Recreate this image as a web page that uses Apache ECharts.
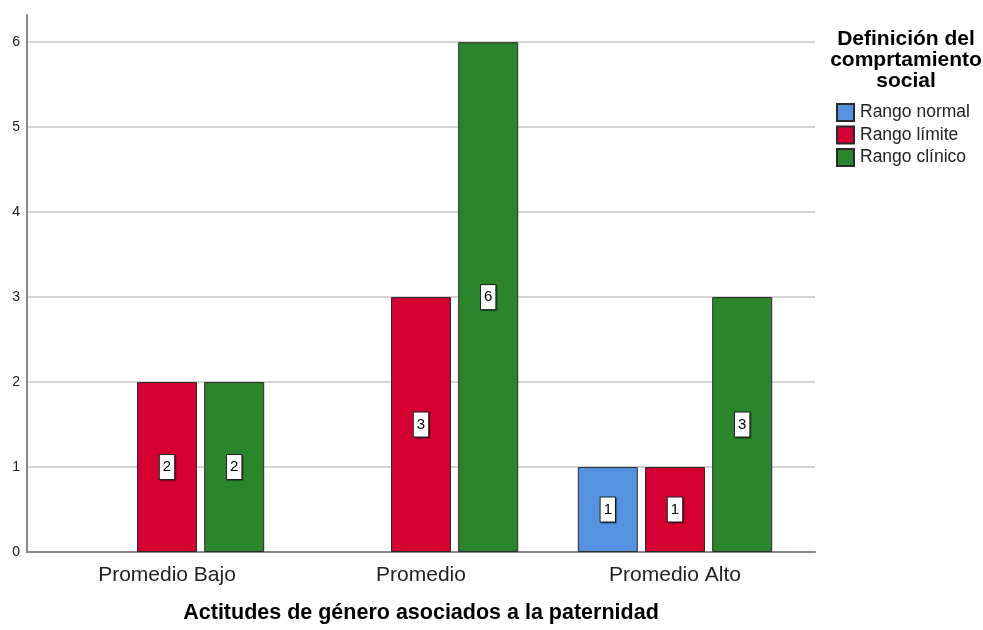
<!DOCTYPE html>
<html><head><meta charset="utf-8">
<script src="https://cdn.jsdelivr.net/npm/echarts@6/dist/echarts.min.js"></script>
<style>html,body{margin:0;padding:0;background:#fff}#c{width:983px;height:630px}</style>
</head><body><div id="c"></div>
<script>
const categories = ['Promedio Bajo', 'Promedio', 'Promedio Alto'];
const seriesNames = ['Rango normal', 'Rango límite', 'Rango clínico'];
const rangoNormal = [null, null, 1];
const rangoLimite = [2, 3, 1];
const rangoClinico = [2, 6, 3];
const yTicks = [0, 1, 2, 3, 4, 5, 6];
const xTitle = 'Actitudes de género asociados a la paternidad';
const legendTitle = 'Definición del\ncomprtamiento\nsocial';

const colors = ['#5593e1', '#d50032', '#2a852b'];
const font = 'Arial, "Liberation Sans", sans-serif';
const yMax = 6.32;

const values = [rangoNormal, rangoLimite, rangoClinico];
const chart = echarts.init(document.getElementById('c'));
chart.setOption({
  animation: false,
  title: {
    text: legendTitle, left: 901, top: 24, textAlign: 'center',
    textStyle: { fontFamily: font, fontSize: 21, fontWeight: 'bold', color: '#000', lineHeight: 21, align: 'center' }
  },
  legend: {
    orient: 'vertical', left: 831, top: 98, itemWidth: 17, itemHeight: 17, itemGap: 3.5,
    icon: 'rect', data: seriesNames,
    textStyle: { fontFamily: font, fontSize: 17.5, color: '#222', padding: [0, 0, 0, 1] }
  },
  grid: [
    { left: 27, right: 168, top: 15, bottom: 78, outerBoundsMode: 'none', containLabel: false },
    { left: 40, right: 181, top: 15, bottom: 78, outerBoundsMode: 'none', containLabel: false }
  ],
  xAxis: [
    { type: 'category', gridIndex: 0, data: categories,
      axisLine: { lineStyle: { color: '#888', width: 2 } }, axisTick: { show: false }, axisLabel: { show: false } },
    { type: 'category', gridIndex: 1, data: categories,
      axisLine: { show: false }, axisTick: { show: false },
      axisLabel: { fontFamily: font, fontSize: 21, color: '#222', margin: 13 },
      name: xTitle, nameLocation: 'middle', nameGap: 50,
      nameTextStyle: { fontFamily: font, fontSize: 21.5, fontWeight: 'bold', color: '#000' } }
  ],
  yAxis: [
    { type: 'value', gridIndex: 0, min: 0, max: yMax, interval: 1,
      axisLine: { show: true, lineStyle: { color: '#888', width: 2 } }, axisTick: { show: false },
      axisLabel: { showMaxLabel: false, fontFamily: font, fontSize: 14, color: '#222', margin: 7,
        formatter: v => yTicks.includes(v) ? String(v) : '' },
      splitLine: { show: true, lineStyle: { color: ['#d4d4d4','#d4d4d4','#d4d4d4','#d4d4d4','#d4d4d4','#d4d4d4','#d4d4d4','rgba(0,0,0,0)'], width: 2 } } },
    { type: 'value', gridIndex: 1, min: 0, max: yMax, show: false, splitLine: { show: false } }
  ],
  series: values.map((d, i) => ({
    name: seriesNames[i], type: 'bar', xAxisIndex: 1, yAxisIndex: 1, data: d,
    barWidth: 60, barGap: '12%',
    itemStyle: { color: colors[i], borderColor: '#2a2a2a', borderWidth: 1 },
    label: { show: true, position: 'inside', fontFamily: font, fontSize: 15, color: '#000',
      backgroundColor: '#fff', borderColor: '#222', borderWidth: 1, padding: [5, 3, 4, 3],
      shadowColor: 'rgba(0,0,0,0.4)', shadowOffsetX: 1, shadowOffsetY: 1, shadowBlur: 1 }
  }))
});
</script></body></html>
